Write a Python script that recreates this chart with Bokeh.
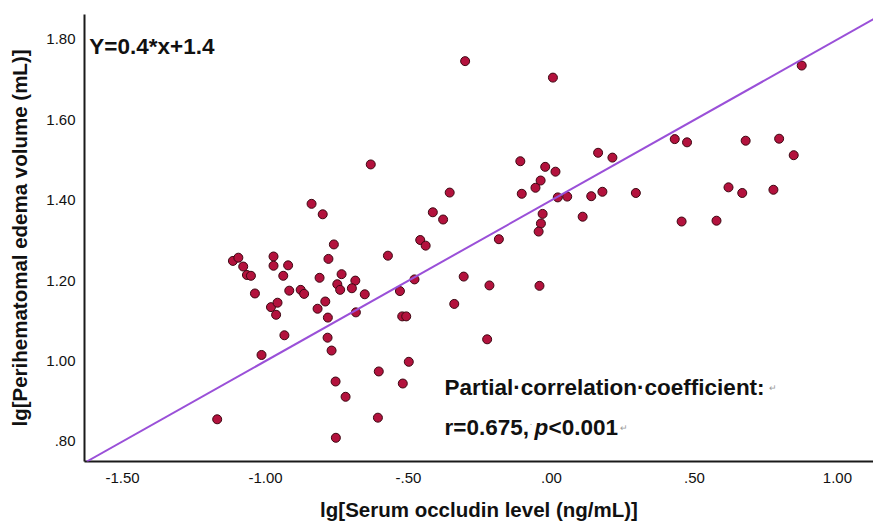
from bokeh.plotting import figure
from bokeh.models import Range1d, FixedTicker, Slope, ColumnDataSource, Label
from bokeh.embed import file_html
from bokeh.resources import INLINE

# ---------------- data ----------------
occludin_lg = [
    -1.114, -1.095, -1.078, -1.065, -1.051, -1.037, -0.972, -0.972, -0.981, -0.958,
    -0.963, -1.014, -1.169, -0.632, -0.839, -0.800, -0.356, -0.415, -0.379, -0.761,
    -0.459, -0.440, -0.921, -0.780, -0.572, -0.938, -0.811, -0.734, -0.749, -0.739,
    -0.686, -0.698, -0.917, -0.877, -0.865, -0.653, -0.479, -0.530, -0.791, -0.818,
    -0.782, -0.684, -0.340, -0.522, -0.508, -0.934, -0.783, -0.769, -0.499, -0.604,
    -0.755, -0.520, -0.720, -0.607, -0.754, -0.302, 0.005, 0.163, 0.213, -0.109,
    -0.022, 0.014, -0.038, -0.056, -0.104, 0.022, 0.055, 0.139, 0.178, -0.031,
    0.109, -0.037, -0.045, -0.184, -0.307, -0.217, -0.042, -0.225, 0.875, 0.431,
    0.474, 0.679, 0.796, 0.847, 0.295, 0.619, 0.667, 0.776, 0.455, 0.577,
]
edema_lg = [
    1.249, 1.257, 1.235, 1.214, 1.212, 1.168, 1.260, 1.237, 1.134, 1.145,
    1.115, 1.015, 0.855, 1.489, 1.391, 1.365, 1.419, 1.370, 1.352, 1.290,
    1.301, 1.287, 1.238, 1.254, 1.262, 1.212, 1.207, 1.216, 1.191, 1.177,
    1.200, 1.181, 1.175, 1.177, 1.167, 1.166, 1.203, 1.174, 1.148, 1.130,
    1.108, 1.121, 1.142, 1.111, 1.111, 1.064, 1.058, 1.026, 0.998, 0.974,
    0.949, 0.944, 0.911, 0.859, 0.809, 1.746, 1.705, 1.518, 1.506, 1.497,
    1.483, 1.471, 1.449, 1.431, 1.416, 1.407, 1.409, 1.410, 1.421, 1.366,
    1.359, 1.342, 1.322, 1.303, 1.210, 1.188, 1.187, 1.054, 1.735, 1.552,
    1.544, 1.548, 1.553, 1.512, 1.418, 1.432, 1.418, 1.426, 1.347, 1.349,
]
fit_slope = 0.4
fit_intercept = 1.4

x_ticks = [-1.5, -1.0, -0.5, 0.0, 0.5, 1.0]
x_tick_labels = ["-1.50", "-1.00", "-.50", ".00", ".50", "1.00"]
y_ticks = [0.8, 1.0, 1.2, 1.4, 1.6, 1.8]
y_tick_labels = [".80", "1.00", "1.20", "1.40", "1.60", "1.80"]

x_title = "lg[Serum occludin level (ng/mL)]"
y_title = "lg[Perihematomal edema volume (mL)]"
equation_text = "Y=0.4*x+1.4"
corr_line1 = "Partial\u00b7correlation\u00b7coefficient:"
corr_r_text = "r=0.675,"
corr_p_text = "p"
corr_p_value = "<0.001"

# ---------------- figure ----------------
FONT = "Liberation Sans, Arial, sans-serif"
p = figure(width=873, height=524, output_backend="svg", toolbar_location=None,
           x_range=Range1d(-1.633, 1.126), y_range=Range1d(0.750, 1.862),
           min_border_left=84, min_border_right=0, min_border_top=14, min_border_bottom=63)
p.outline_line_color = None
p.background_fill_color = "white"
p.border_fill_color = "white"
p.xgrid.visible = False
p.ygrid.visible = False

for ax in (p.xaxis[0], p.yaxis[0]):
    ax.axis_line_width = 2
    ax.axis_line_color = "#1a1a1a"
    ax.major_tick_line_color = None
    ax.minor_tick_line_color = None
    ax.major_label_text_font = FONT
    ax.major_label_text_font_size = "15px"
    ax.major_label_text_color = "#111111"
    ax.axis_label_text_font = FONT
    ax.axis_label_text_font_style = "bold"
    ax.axis_label_text_font_size = "20.5px"
    ax.axis_label_text_color = "#111111"

p.xaxis.major_label_standoff = 5
p.yaxis.major_label_standoff = 3
p.xaxis.ticker = FixedTicker(ticks=x_ticks)
p.xaxis.major_label_overrides = dict(zip(x_ticks, x_tick_labels))
p.yaxis.ticker = FixedTicker(ticks=y_ticks)
p.yaxis.major_label_overrides = dict(zip(y_ticks, y_tick_labels))
p.xaxis.axis_label = x_title
p.yaxis.axis_label = y_title
p.xaxis.axis_label_standoff = 12
p.yaxis.axis_label_standoff = 12

# regression line
p.add_layout(Slope(gradient=fit_slope, y_intercept=fit_intercept,
                   line_color="#9a50d8", line_width=2))

src = ColumnDataSource(dict(x=occludin_lg, y=edema_lg))
p.scatter("x", "y", source=src, size=9, fill_color="#b3123d",
          line_color="#3d0712", line_width=1)

# ---------------- annotations ----------------
px = 1.0 / 286.0  # one pixel in x data units
text_kw = dict(text_font=FONT, text_font_style="bold", text_font_size="22.5px",
               text_color="#111111", text_baseline="alphabetic", text_align="left")
mark_kw = dict(text_font=FONT, text_font_size="9px", text_color="#9a9a9a",
               text_baseline="alphabetic", text_align="left")

p.add_layout(Label(x=-1.616, y=1.782, text=equation_text, **text_kw))

x0 = -0.374
y1 = 0.934
y2 = 0.834
p.add_layout(Label(x=x0, y=y1, text=corr_line1, **text_kw))
p.add_layout(Label(x=x0 + 324 * px, y=y1, text="\u21b5", **mark_kw))

p.add_layout(Label(x=x0, y=y2, text=corr_r_text, **text_kw))
p.add_layout(Label(x=x0 + 85 * px, y=y2 + 0.01, text="\u00b7", **mark_kw))
kw_it = dict(text_kw)
kw_it["text_font_style"] = "bold italic"
p.add_layout(Label(x=x0 + 90 * px, y=y2, text=corr_p_text, **kw_it))
p.add_layout(Label(x=x0 + 104 * px, y=y2, text=corr_p_value, **text_kw))
p.add_layout(Label(x=x0 + 175 * px, y=y2, text="\u21b5", **mark_kw))

open("out.html", "w").write(file_html(p, INLINE))
